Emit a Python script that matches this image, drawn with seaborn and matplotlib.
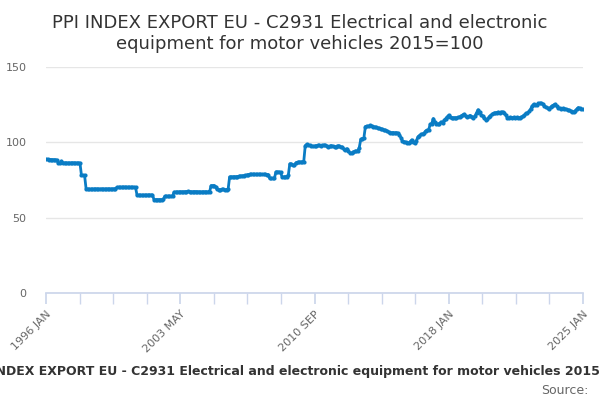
import matplotlib
matplotlib.use("Agg")
import matplotlib.pyplot as plt
import seaborn as sns
import pandas as pd
import numpy as np

title = "PPI INDEX EXPORT EU - C2931 Electrical and electronic\nequipment for motor vehicles 2015=100"
caption = "PPI INDEX EXPORT EU - C2931 Electrical and electronic equipment for motor vehicles 2015=100"
tick_labels = ["1996 JAN", "2003 MAY", "2010 SEP", "2018 JAN", "2025 JAN"]
y_ticks = [0, 50, 100, 150]

v1996 = [88.7,88.7,88.6,88.6,88.5,88.5,88.4,88.3,86,86,87.5,86.4]
v1997 = [86.4,86.4,86.3,86.3,86.3,86.4,86.4,86.3,86.3,86.3,86.3,78.0]
v1998 = [78.0,78.0,69.0,69.0,68.9,68.9,69.0,69.0,69.1,69.1,69.0,69.0]
v1999 = [69.1,69.0,69.0,69.0,69.1,69.1,69.0,69.0,69.2,69.2,70.2,70.2]
v2000 = [70.2,70.2,70.3,70.3,70.2,70.2,70.2,70.2,70.2,70.2,70.1,65.0]
v2001 = [65.0,65.0,64.9,64.9,65.0,65.0,65.0,65.1,65.0,65.0,62.0,62.0]
v2002 = [62.0,62.0,62.0,62.0,62.1,64.2,64.2,64.2,64.3,64.2,64.2,67.0]
v2003 = [67.0,67.1,67.1,67.2,67.2,67.1,67.3,67.3,67.4,67.3,67.2,67.2]
v2004 = [67.3,67.3,67.2,67.2,67.1,67.1,67.2,67.2,67.2,67.1,67.2,71.3]
v2005 = [71.3,71.3,70.5,68.7,68.6,68.6,68.7,68.7,68.6,68.6,68.7,77.1]
v2006 = [77.1,77.1,77.2,77.2,77.3,77.4,77.6,77.8,77.9,78.0,78.2,78.6]
v2007 = [78.7,78.8,78.8,78.8,78.7,78.7,78.8,78.8,78.7,78.7,78.7,78.6]
v2008 = [78.6,76.0,76.0,76.1,76.0,80.4,80.3,80.4,80.1,77.0,77.0,77.2]
v2009 = [77.3,78.0,85.8,85.6,84.7,85.0,86.5,86.8,86.9,87.0,86.9,86.9]
v2010 = [97.8,98.7,98.2,97.9,97.6,97.4,97.5,97.8,97.9,98.0,97.7,97.9]
v2011 = [98.2,98.0,97.6,97.0,97.5,97.8,97.3,96.9,97.2,97.8,97.5,96.8]
v2012 = [96.8,95.5,94.8,95.8,94.2,93.0,92.8,93.6,94.0,94.2,94.0,96.5]
v2013 = [102.0,102.5,103.0,110.5,110.8,110.6,111.2,110.9,110.5,110.2,109.9,109.5]
v2014 = [109.2,109.0,108.6,108.2,108.0,107.6,106.8,106.5,106.4,106.5,106.3,106.4]
v2015 = [106.2,105.0,103.2,100.9,100.5,100.2,99.6,99.3,100.5,101.6,100.5,99.3]
v2016 = [101.0,103.5,104.5,105.3,105.6,106.0,107.6,107.9,108.5,112.0,112.5,115.8]
v2017 = [113.5,112.5,112.0,112.5,113.5,113.0,114.5,115.8,116.8,118.0,117.0,116.4]
v2018 = [116.3,116.4,116.2,116.6,116.8,117.5,118.2,118.7,117.5,116.9,117.2,117.8]
v2019 = [117.0,116.4,117.5,119.5,121.6,120.0,118.0,117.5,116.0,115.0,115.3,116.5]
v2020 = [117.8,118.5,119.3,119.5,119.8,120.0,119.8,120.1,120.2,119.5,118.0,116.4]
v2021 = [116.3,116.5,116.4,116.6,116.4,116.5,116.2,116.4,116.8,117.2,118.0,119.3]
v2022 = [119.3,120.5,122.0,124.0,125.3,124.8,124.5,125.8,126.0,125.8,125.5,124.0]
v2023 = [123.3,122.8,122.4,123.2,124.2,124.8,125.3,124.0,123.0,122.5,122.4,122.5]
v2024 = [122.4,122.0,121.7,121.2,120.8,120.2,120.0,121.0,122.1,123.1,122.5,121.8]
v2025 = [122.0]

values = (v1996+v1997+v1998+v1999+v2000+v2001+v2002+v2003+v2004+v2005+v2006+v2007+
          v2008+v2009+v2010+v2011+v2012+v2013+v2014+v2015+v2016+v2017+v2018+v2019+
          v2020+v2021+v2022+v2023+v2024+v2025)
df = pd.DataFrame({"m": np.arange(len(values)), "v": values})

sns.set_theme(style="white")
plt.rcParams['font.family'] = ['DejaVu Sans']
fig = plt.figure(figsize=(6, 4), dpi=100)
ax = fig.add_axes([46/600, 1-293/400, (583-46)/600, (293-67)/400])
sns.lineplot(data=df, x="m", y="v", ax=ax, color="#0a7cc4", linewidth=2,
             marker="o", markersize=3, markeredgewidth=0)
n = len(values) - 1
ax.set_xlim(0, n)
ax.set_ylim(0, 150)
ax.set_yticks(y_ticks)
ax.set_yticklabels([str(t) for t in y_ticks], color="#666666", fontsize=8)
ax.yaxis.grid(True, color="#e6e6e6", linewidth=1)
ax.tick_params(axis="y", length=0, pad=14)
major = np.linspace(0, n, 5)
ax.set_xticks(major)
ax.set_xticklabels(tick_labels, rotation=45, ha="right", rotation_mode="anchor",
                   color="#666666", fontsize=8)
ax.set_xticks(np.linspace(0, n, 17), minor=True)
ax.tick_params(axis="x", which="both", length=8, color="#ccd6eb", direction="out", bottom=True)
ax.set_xlabel(""); ax.set_ylabel("")
for s in ["top", "right", "left"]:
    ax.spines[s].set_visible(False)
ax.spines["bottom"].set_color("#ccd6eb")
fig.text(0.5, 0.965, title, ha="center", va="top", fontsize=13, color="#333333")
fig.text(0.5, 1-372/400, caption, ha="center", va="center", fontsize=9, color="#333333", fontweight="bold")
fig.text(589/600, 1-391/400, "Source:", ha="right", va="center", fontsize=9, color="#666666")
fig.savefig("out.png", dpi=100)
